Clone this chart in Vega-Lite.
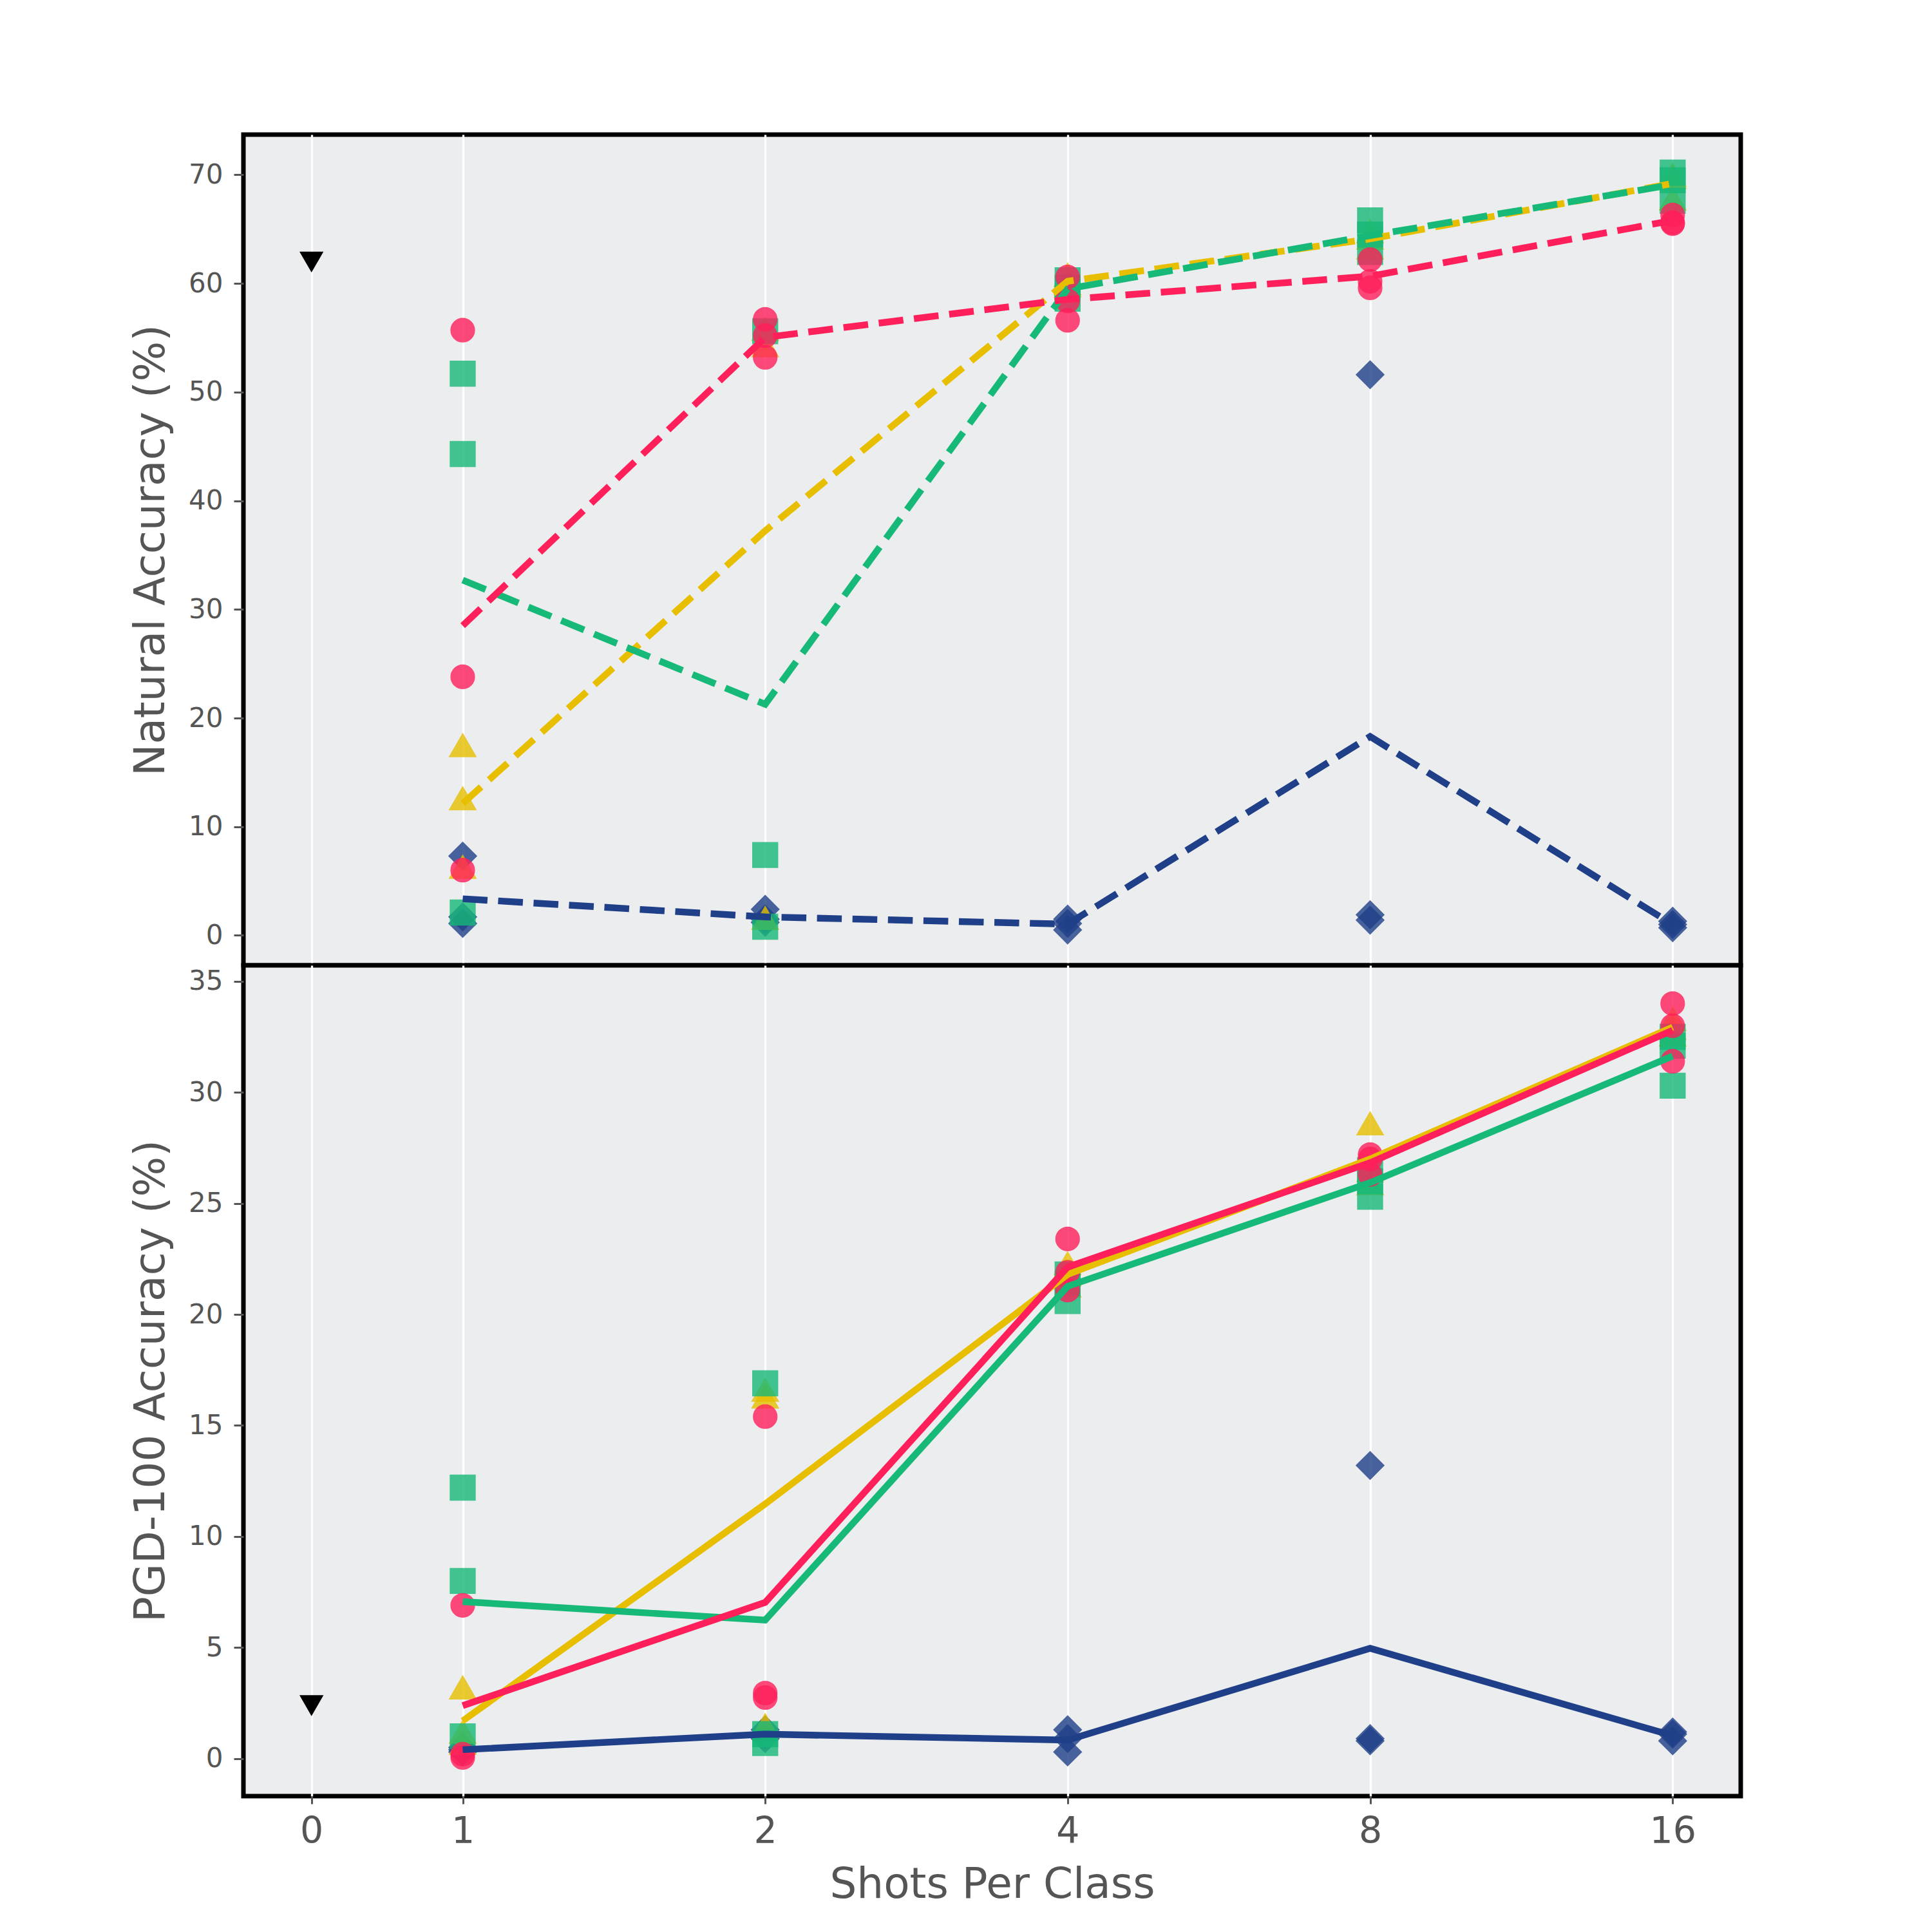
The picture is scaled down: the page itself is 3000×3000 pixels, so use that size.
{
  "$schema": "https://vega.github.io/schema/vega-lite/v6.json",
  "background": "white",
  "padding": {"left": 198, "top": 205, "right": 5, "bottom": 5},
  "bounds": "flush",
  "spacing": 0,
  "config": {
    "font": "DejaVu Sans",
    "view": {"fill": "#ECEDEF", "stroke": "black", "strokeWidth": 7},
    "axis": {
      "labelColor": "#555555",
      "titleColor": "#555555",
      "titleFontWeight": "normal",
      "tickColor": "#555555",
      "tickWidth": 3,
      "domain": false,
      "labelFlush": false
    }
  },
  "datasets": {
    "runs": [
      {"method": "A", "shots": 1, "natural": 7.3, "pgd": 0.5},
      {"method": "A", "shots": 1, "natural": 1.7, "pgd": 0.4},
      {"method": "A", "shots": 1, "natural": 1.1, "pgd": 0.3},
      {"method": "A", "shots": 2, "natural": 2.4, "pgd": 1.3},
      {"method": "A", "shots": 2, "natural": 1.5, "pgd": 1.1},
      {"method": "A", "shots": 2, "natural": 1.2, "pgd": 0.9},
      {"method": "A", "shots": 4, "natural": 1.5, "pgd": 1.3},
      {"method": "A", "shots": 4, "natural": 1.1, "pgd": 0.9},
      {"method": "A", "shots": 4, "natural": 0.5, "pgd": 0.3},
      {"method": "A", "shots": 8, "natural": 51.6, "pgd": 13.2},
      {"method": "A", "shots": 8, "natural": 1.9, "pgd": 0.9},
      {"method": "A", "shots": 8, "natural": 1.4, "pgd": 0.8},
      {"method": "A", "shots": 16, "natural": 1.3, "pgd": 1.2},
      {"method": "A", "shots": 16, "natural": 1.0, "pgd": 1.1},
      {"method": "A", "shots": 16, "natural": 0.7, "pgd": 0.8},
      {"method": "B", "shots": 1, "natural": 17.5, "pgd": 3.2},
      {"method": "B", "shots": 1, "natural": 12.6, "pgd": 1.2},
      {"method": "B", "shots": 1, "natural": 6.3, "pgd": 0.7},
      {"method": "B", "shots": 2, "natural": 55.8, "pgd": 16.6},
      {"method": "B", "shots": 2, "natural": 54.3, "pgd": 16.3},
      {"method": "B", "shots": 2, "natural": 1.6, "pgd": 1.5},
      {"method": "B", "shots": 4, "natural": 60.8, "pgd": 22.3},
      {"method": "B", "shots": 4, "natural": 60.0, "pgd": 21.8},
      {"method": "B", "shots": 4, "natural": 59.8, "pgd": 21.3},
      {"method": "B", "shots": 8, "natural": 64.8, "pgd": 28.6},
      {"method": "B", "shots": 8, "natural": 64.2, "pgd": 26.5},
      {"method": "B", "shots": 8, "natural": 63.3, "pgd": 25.9},
      {"method": "B", "shots": 16, "natural": 70.0, "pgd": 33.3},
      {"method": "B", "shots": 16, "natural": 69.8, "pgd": 32.9},
      {"method": "B", "shots": 16, "natural": 67.8, "pgd": 32.6},
      {"method": "C", "shots": 1, "natural": 51.7, "pgd": 12.2},
      {"method": "C", "shots": 1, "natural": 44.3, "pgd": 8.0},
      {"method": "C", "shots": 1, "natural": 2.1, "pgd": 1.0},
      {"method": "C", "shots": 2, "natural": 55.6, "pgd": 16.9},
      {"method": "C", "shots": 2, "natural": 7.4, "pgd": 1.1},
      {"method": "C", "shots": 2, "natural": 0.8, "pgd": 0.7},
      {"method": "C", "shots": 4, "natural": 60.3, "pgd": 21.8},
      {"method": "C", "shots": 4, "natural": 59.6, "pgd": 21.4},
      {"method": "C", "shots": 4, "natural": 58.6, "pgd": 20.6},
      {"method": "C", "shots": 8, "natural": 65.8, "pgd": 26.5},
      {"method": "C", "shots": 8, "natural": 64.5, "pgd": 26.0},
      {"method": "C", "shots": 8, "natural": 62.9, "pgd": 25.3},
      {"method": "C", "shots": 16, "natural": 70.2, "pgd": 32.5},
      {"method": "C", "shots": 16, "natural": 69.5, "pgd": 32.1},
      {"method": "C", "shots": 16, "natural": 67.6, "pgd": 30.3},
      {"method": "D", "shots": 1, "natural": 55.7, "pgd": 6.9},
      {"method": "D", "shots": 1, "natural": 23.8, "pgd": 0.2},
      {"method": "D", "shots": 1, "natural": 6.0, "pgd": 0.05},
      {"method": "D", "shots": 2, "natural": 56.7, "pgd": 15.4},
      {"method": "D", "shots": 2, "natural": 55.2, "pgd": 2.95},
      {"method": "D", "shots": 2, "natural": 53.2, "pgd": 2.75},
      {"method": "D", "shots": 4, "natural": 60.6, "pgd": 23.4},
      {"method": "D", "shots": 4, "natural": 58.4, "pgd": 21.9},
      {"method": "D", "shots": 4, "natural": 56.6, "pgd": 21.1},
      {"method": "D", "shots": 8, "natural": 62.2, "pgd": 27.2},
      {"method": "D", "shots": 8, "natural": 60.2, "pgd": 27.0},
      {"method": "D", "shots": 8, "natural": 59.6, "pgd": 26.3},
      {"method": "D", "shots": 16, "natural": 66.3, "pgd": 34.0},
      {"method": "D", "shots": 16, "natural": 65.6, "pgd": 33.0},
      {"method": "D", "shots": 16, "natural": 65.5, "pgd": 31.4},
      {"method": "Zero-shot", "shots": 0, "natural": 62.0, "pgd": 2.4}
    ]
  },
  "data": {"name": "runs"},
  "vconcat": [
    {
      "width": 2325,
      "height": 1290,
      "encoding": {
        "x": {
          "field": "shots",
          "type": "quantitative",
          "scale": {
            "domain": [0, 1, 2, 4, 8, 16],
            "range": [105.7, 340.5, 810.2, 1279.8, 1749.5, 2219.3],
            "nice": false,
            "zero": false
          },
          "axis": {
            "values": [0, 1, 2, 4, 8, 16],
            "title": null,
            "labels": false,
            "ticks": false,
            "grid": true,
            "gridColor": "white",
            "gridWidth": 3.3
          }
        }
      },
      "layer": [
        {
          "mark": {"type": "point", "filled": true, "strokeWidth": 2},
          "encoding": {
            "y": {
              "field": "natural",
              "type": "quantitative",
              "scale": {"domain": [-2.76, 73.7], "nice": false, "zero": false},
              "axis": {
                "values": [0, 10, 20, 30, 40, 50, 60, 70],
                "grid": false,
                "title": "Natural Accuracy (%)",
                "titleFontSize": 66,
                "titlePadding": 24,
                "labelFontSize": 42,
                "labelPadding": 17,
                "tickSize": 15
              }
            },
            "color": {
              "field": "method",
              "type": "nominal",
              "scale": {"domain": ["A", "B", "C", "D", "Zero-shot"], "range": ["#1F3F88", "#E8BF00", "#16B978", "#FF1F5B", "#000000"]},
              "legend": null
            },
            "stroke": {
              "field": "method",
              "type": "nominal",
              "scale": {"domain": ["A", "B", "C", "D", "Zero-shot"], "range": ["#1F3F88", "#E8BF00", "#16B978", "#FF1F5B", "#000000"]},
              "legend": null
            },
            "shape": {
              "field": "method",
              "type": "nominal",
              "scale": {"domain": ["A", "B", "C", "D", "Zero-shot"], "range": ["diamond", "triangle-up", "square", "circle", "triangle-down"]},
              "legend": null
            },
            "size": {
              "field": "method",
              "type": "nominal",
              "scale": {"domain": ["A", "B", "C", "D", "Zero-shot"], "range": [1800, 1150, 900, 920, 1200]},
              "legend": null
            },
            "opacity": {
              "condition": {"test": "datum.method === 'Zero-shot'", "value": 1},
              "value": 0.8
            }
          }
        },
        {
          "transform": [{"filter": "datum.method !== 'Zero-shot'"}],
          "mark": {"type": "line", "strokeWidth": 10.4, "strokeDash": [38.5, 16.6]},
          "encoding": {
            "y": {"field": "natural", "type": "quantitative", "aggregate": "mean"},
            "color": {"field": "method", "type": "nominal", "legend": null}
          }
        }
      ]
    },
    {
      "width": 2325,
      "height": 1290,
      "encoding": {
        "x": {
          "field": "shots",
          "type": "quantitative",
          "scale": {
            "domain": [0, 1, 2, 4, 8, 16],
            "range": [105.7, 340.5, 810.2, 1279.8, 1749.5, 2219.3],
            "nice": false,
            "zero": false
          },
          "axis": {
            "values": [0, 1, 2, 4, 8, 16],
            "title": "Shots Per Class",
            "titleFontSize": 66,
            "titlePadding": 22,
            "labelFontSize": 57,
            "labelPadding": 15,
            "tickSize": 12,
            "grid": true,
            "gridColor": "white",
            "gridWidth": 3.3
          }
        }
      },
      "layer": [
        {
          "mark": {"type": "point", "filled": true, "strokeWidth": 2},
          "encoding": {
            "y": {
              "field": "pgd",
              "type": "quantitative",
              "scale": {"domain": [-1.69, 35.72], "nice": false, "zero": false},
              "axis": {
                "values": [0, 5, 10, 15, 20, 25, 30, 35],
                "grid": false,
                "title": "PGD-100 Accuracy (%)",
                "titleFontSize": 66,
                "titlePadding": 24,
                "labelFontSize": 42,
                "labelPadding": 17,
                "tickSize": 15
              }
            },
            "color": {
              "field": "method",
              "type": "nominal",
              "scale": {"domain": ["A", "B", "C", "D", "Zero-shot"], "range": ["#1F3F88", "#E8BF00", "#16B978", "#FF1F5B", "#000000"]},
              "legend": null
            },
            "stroke": {
              "field": "method",
              "type": "nominal",
              "scale": {"domain": ["A", "B", "C", "D", "Zero-shot"], "range": ["#1F3F88", "#E8BF00", "#16B978", "#FF1F5B", "#000000"]},
              "legend": null
            },
            "shape": {
              "field": "method",
              "type": "nominal",
              "scale": {"domain": ["A", "B", "C", "D", "Zero-shot"], "range": ["diamond", "triangle-up", "square", "circle", "triangle-down"]},
              "legend": null
            },
            "size": {
              "field": "method",
              "type": "nominal",
              "scale": {"domain": ["A", "B", "C", "D", "Zero-shot"], "range": [1800, 1150, 900, 920, 1200]},
              "legend": null
            },
            "opacity": {
              "condition": {"test": "datum.method === 'Zero-shot'", "value": 1},
              "value": 0.8
            }
          }
        },
        {
          "transform": [{"filter": "datum.method !== 'Zero-shot'"}],
          "mark": {"type": "line", "strokeWidth": 10.4},
          "encoding": {
            "y": {"field": "pgd", "type": "quantitative", "aggregate": "mean"},
            "color": {"field": "method", "type": "nominal", "legend": null}
          }
        }
      ]
    }
  ]
}
